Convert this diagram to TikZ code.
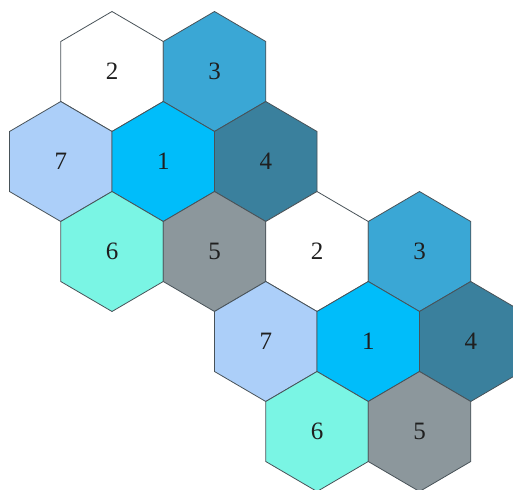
\documentclass[tikz,border=0pt]{standalone}
\usepackage{fontspec}
\setmainfont{Liberation Serif}
\definecolor{cTwo}{RGB}{255,255,255}
\definecolor{cThree}{RGB}{58,167,213}
\definecolor{cSeven}{RGB}{172,207,249}
\definecolor{cOne}{RGB}{0,189,250}
\definecolor{cFour}{RGB}{58,128,157}
\definecolor{cSix}{RGB}{122,245,228}
\definecolor{cFive}{RGB}{140,151,156}
\definecolor{hexline}{RGB}{72,82,88}
\newcommand\hexcellat[5]{%
  \draw[hexcell, fill=#3] (#1,#2) +(0,-60) -- +(51.25,-30) -- +(51.25,30) -- +(0,60) -- +(-51.25,30) -- +(-51.25,-30) -- cycle;
  \node[hexlabel] (#4) at (#1,#2) {#5};}
\begin{document}
\begin{tikzpicture}[x=1pt,y=-1pt,
  hexcell/.style={draw=hexline, line width=0.8pt, line join=round},
  hexlabel/.style={font=\fontsize{25}{25}\selectfont, text=black!88, inner sep=0pt}]
\useasboundingbox (0,0) rectangle (513,489);
% first cluster
\hexcellat{112}{71.5}{cTwo}{aTwo}{2}
\hexcellat{214.5}{71.5}{cThree}{aThree}{3}
\hexcellat{60.75}{161.5}{cSeven}{aSeven}{7}
\hexcellat{163.25}{161.5}{cOne}{aOne}{1}
\hexcellat{265.75}{161.5}{cFour}{aFour}{4}
\hexcellat{112}{251.5}{cSix}{aSix}{6}
\hexcellat{214.5}{251.5}{cFive}{aFive}{5}
% second cluster
\hexcellat{317}{251.5}{cTwo}{bTwo}{2}
\hexcellat{419.5}{251.5}{cThree}{bThree}{3}
\hexcellat{265.75}{341.5}{cSeven}{bSeven}{7}
\hexcellat{368.25}{341.5}{cOne}{bOne}{1}
\hexcellat{470.75}{341.5}{cFour}{bFour}{4}
\hexcellat{317}{431.5}{cSix}{bSix}{6}
\hexcellat{419.5}{431.5}{cFive}{bFive}{5}
\end{tikzpicture}
\end{document}
